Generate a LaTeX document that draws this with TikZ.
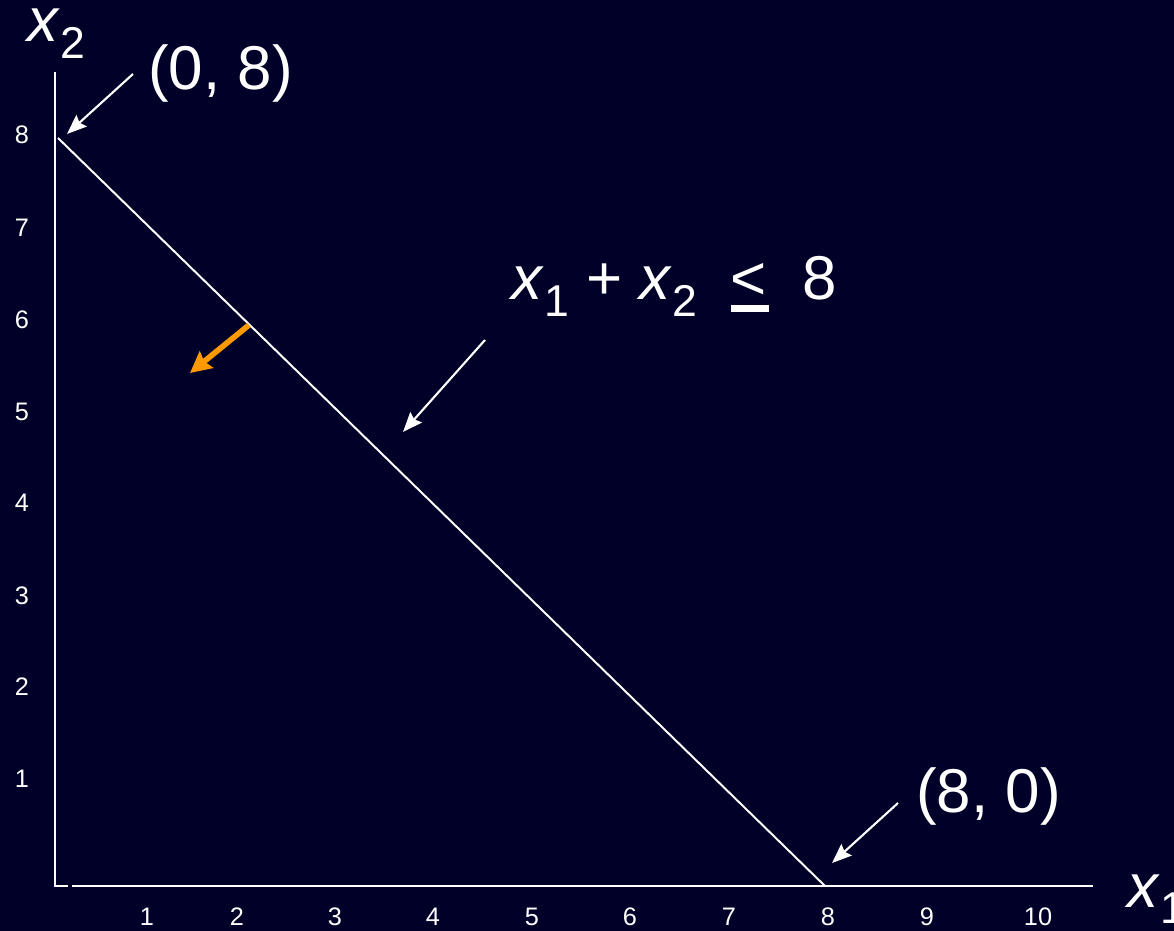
\documentclass[tikz,border=0pt]{standalone}
\usepackage{fontspec}
\usepackage{graphicx}
\setmainfont{Liberation Sans}
\usetikzlibrary{arrows.meta, positioning}

\definecolor{slidebg}{RGB}{0,0,40}
\definecolor{feasorange}{RGB}{255,153,0}
\newcommand{\xvar}[1]{\textit{x}\raisebox{-0.27em}{\scalebox{0.72}{#1}}}
\newcommand{\uleq}{\rlap{\rule[-0.19em]{0.62em}{0.11em}}\symbol{"3C}}

\begin{document}
\begin{tikzpicture}[
				x=0.025cm, y=-0.025cm,
				every node/.style={text=white, inner sep=0pt},
				ticklabel/.style={font=\fontsize{18}{20}\selectfont},
				biglabel/.style={font=\fontsize{44}{50}\selectfont, anchor=base west},
				axis/.style={white, line width=2pt},
				bound/.style={white, line width=1.4pt},
				callout/.style={white, line width=1.5pt, -{Stealth[length=14pt, width=11pt, inset=2pt]}},
				direction/.style={feasorange, line width=4pt, -{Stealth[length=15pt, width=15pt, inset=2pt]}}
				]
				\useasboundingbox (0,0) rectangle (1174,931);
				\fill[slidebg] (0,0) rectangle (1174,931);
				
				% Coordinates
				\coordinate (ytop) at (55,72);
				\coordinate (origin) at (55,886);
				\coordinate (xstub) at (68,886);
				\coordinate (xstart) at (72,886);
				\coordinate (xend) at (1093,886);
				\coordinate (b08) at (58,138);
				\coordinate (b80) at (825,886);
				\coordinate (tail08) at (133,74);
				\coordinate (tip08) at (67,134);
				\coordinate (tail80) at (898,803);
				\coordinate (tip80) at (832,863);
				\coordinate (tailc) at (485,340);
				\coordinate (tipc) at (403,432);
				\coordinate (dirfoot) at (249,325);
				\coordinate (dirtip) at (190,373);
				
				% Axes
				\draw[axis] (ytop) -- (origin) -- (xstub);
				\draw[axis] (xstart) -- (xend);
				\foreach \i/\px in {1/147, 2/237, 3/335, 4/433, 5/532, 6/630, 7/729, 8/828, 9/927, 10/1038}
					\node[ticklabel] (xt\i) at (\px,917) {\i};
				\foreach \i/\py in {1/779, 2/687, 3/596, 4/503, 5/412, 6/320, 7/228, 8/135}
					\node[ticklabel] (yt\i) at (22,\py) {\i};
				
				% Nodes
				\node[biglabel] (x2label) at (27,42) {\xvar{2}};
				\node[biglabel] (x1label) at (1127,907) {\xvar{1}};
				\node[biglabel] (corner08) at (148,90) {(0, 8)};
				\node[biglabel] (corner80) at (916,812) {(8, 0)};
				\node[biglabel] (constraint) at (511,300) {\xvar{1} + \xvar{2}\hspace{0.55em}\uleq\hspace{0.58em}8};
				
				% Arrows
				\draw[bound] (b08) -- (b80);
				\draw[callout] (tail08) -- (tip08);
				\draw[callout] (tail80) -- (tip80);
				\draw[callout] (tailc) -- (tipc);
				\draw[direction] (dirfoot) -- (dirtip);
			\end{tikzpicture}
\end{document}
